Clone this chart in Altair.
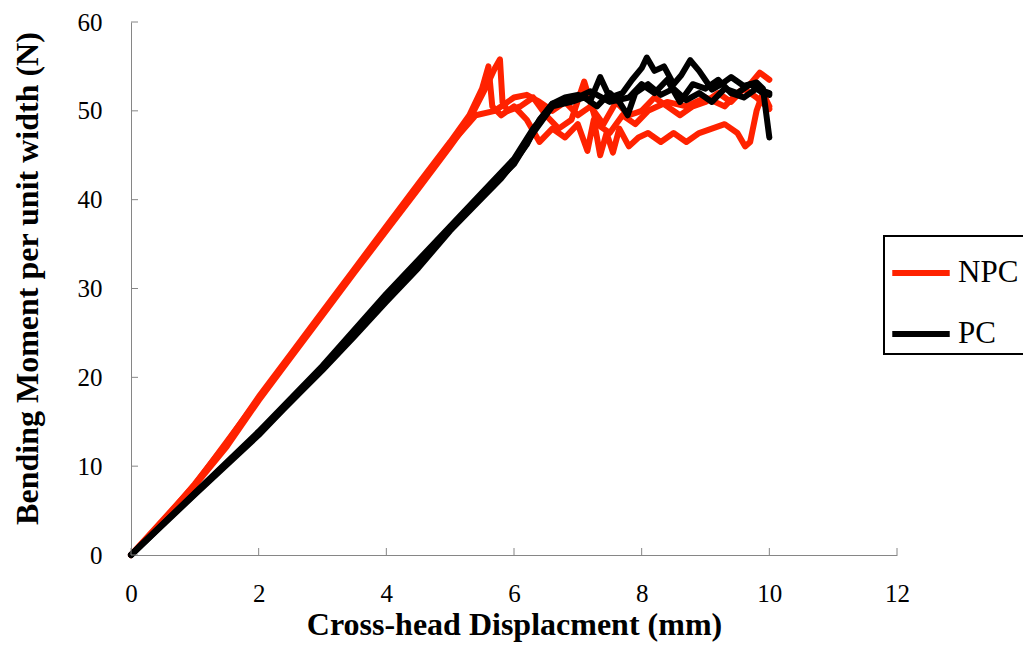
import altair as alt
import pandas as pd

# ---------------- data ----------------
npc1_x = [0, 0.5, 1, 1.5, 2, 2.5, 3, 3.5, 4, 4.5, 5, 5.3, 5.55, 5.7, 5.78, 5.82, 5.9, 6.1, 6.3, 6.5,
          6.7, 6.9, 7.1, 7.3, 7.5, 7.7, 7.9, 8.1, 8.4, 8.7, 9.0, 9.3, 9.5, 9.7, 9.85, 10.0]
npc1_y = [0, 3.6, 7.8, 12.2, 17.4, 22.2, 27, 31.8, 36.5, 41.2, 46, 49, 52.5, 54.8, 55.8, 51, 50, 50.5, 51.5, 49.5,
          48, 49, 53.3, 48.5, 47.5, 49.5, 48.5, 50, 51, 50.5, 51.5, 50.5, 52, 53, 54.3, 53.5]

npc2_x = [0, 0.5, 1, 1.5, 2, 2.5, 3, 3.5, 4, 4.5, 5, 5.3, 5.5, 5.6, 5.66, 5.8, 6.0, 6.2, 6.4, 6.6,
          6.8, 7.0, 7.15, 7.25, 7.35, 7.45, 7.55, 7.65, 7.8, 7.95, 8.1, 8.3, 8.5, 8.7, 8.9, 9.1, 9.3,
          9.5, 9.62, 9.7, 9.8, 9.9, 10.0]
npc2_y = [0, 3.8, 8.0, 12.6, 17.8, 22.6, 27.4, 32.2, 37, 41.8, 46.5, 49.5, 52.5, 55.0, 50.5, 49.5, 50.5, 49, 46.5, 48,
          47, 48.5, 45.5, 49, 45, 47.5, 45.3, 48, 46, 47, 47.5, 46.5, 47.5, 46.5, 47.5, 48, 48.5,
          47.5, 46, 46.5, 50, 52, 50.5]

npc3_x = [0, 1, 2, 3, 4, 5, 5.4, 5.7, 6.0, 6.2, 6.4, 6.6, 6.8, 7.0, 7.2, 7.4, 7.6, 7.8, 8.0, 8.2,
          8.4, 8.6, 8.8, 9.0, 9.2, 9.4, 9.6, 9.8, 10.0]
npc3_y = [0, 7.9, 17.6, 27.2, 36.8, 46.2, 49.5, 50, 51.5, 51.8, 51, 50, 51, 49.5, 50.5, 48.5, 51, 49.5, 50, 51.5,
          50.5, 49.5, 50.5, 51, 52, 51, 52.5, 51.5, 50.2]

pc1_x = [0, 0.5, 1, 1.5, 2, 2.5, 3, 3.5, 4, 4.5, 5, 5.5, 5.8, 6.0, 6.2, 6.4, 6.6, 6.8, 7.0, 7.2,
         7.35, 7.5, 7.7, 7.85, 8.0, 8.08, 8.2, 8.35, 8.5, 8.62, 8.76, 8.9, 9.1, 9.25, 9.4, 9.6, 9.8,
         9.9, 10.0]
pc1_y = [0, 3.5, 6.9, 10.3, 13.7, 17.2, 20.8, 24.6, 28.5, 32.3, 36.5, 40.2, 42.4, 44.2, 46.2, 49, 50.8, 51.5, 51.8, 51.2,
         53.8, 51.5, 52, 53.5, 54.8, 56, 54.5, 55, 53, 54, 55.7, 54.5, 52.4, 53, 53.8, 52.8, 53.2,
         52.5, 47]

pc2_x = [0, 1, 2, 3, 4, 4.5, 5, 5.5, 6.0, 6.3, 6.6, 6.9, 7.1, 7.3, 7.5, 7.65, 7.78, 7.9, 8.1, 8.3,
         8.5, 8.7, 8.9, 9.1, 9.3, 9.5, 9.7, 9.9, 10.0]
pc2_y = [0, 6.8, 13.5, 21, 29, 32.8, 36.8, 40.5, 44, 47.5, 50.5, 51, 51.5, 50.5, 52, 51, 49.5, 52, 53, 51.8,
         52.5, 51.2, 52, 51, 52.5, 52, 53, 52, 51.8]

pc3_x = [0, 1, 2, 3, 4, 5, 5.5, 6.0, 6.3, 6.6, 6.9, 7.2, 7.5, 7.8, 8.0, 8.2, 8.4, 8.6, 8.8, 9.0,
         9.2, 9.4, 9.6, 9.8, 10.0]
pc3_y = [0, 7.0, 13.9, 21.3, 29.4, 37, 40.8, 44.6, 48, 50.8, 51.2, 52.2, 51, 51.5, 53, 52, 53.5, 51, 53, 52.5,
         53.5, 52, 51.5, 52.5, 52]

series_names = ["NPC", "PC"]
series_colors = ["#ff2200", "#000000"]
x_ticks = [0, 2, 4, 6, 8, 10, 12]
y_ticks = [0, 10, 20, 30, 40, 50, 60]

curves = [
    ("NPC", "NPC-1", npc1_x, npc1_y),
    ("NPC", "NPC-2", npc2_x, npc2_y),
    ("NPC", "NPC-3", npc3_x, npc3_y),
    ("PC", "PC-1", pc1_x, pc1_y),
    ("PC", "PC-2", pc2_x, pc2_y),
    ("PC", "PC-3", pc3_x, pc3_y),
]
frames = []
for s, sp, xs, ys in curves:
    frames.append(pd.DataFrame({"series": s, "specimen": sp, "x": xs, "y": ys,
                                "idx": list(range(len(xs)))}))
df = pd.concat(frames, ignore_index=True)

W, H = 766, 533
FONT = "Liberation Serif"

xscale = alt.Scale(domain=[0, 12], nice=False, zero=False)
yscale = alt.Scale(domain=[0, 60], nice=False, zero=False)

xaxis = alt.Axis(values=x_ticks, grid=False, ticks=False, tickSize=0, labelPadding=26,
                 labelFlush=False, labelOverlap=False,
                 labelFont=FONT, labelFontSize=25, labelColor="black",
                 domainColor="#868686", domainWidth=1,
                 title="Cross-head Displacment (mm)", titleFont=FONT, titleFontSize=32,
                 titleFontWeight="bold", titleColor="black", titleBaseline="alphabetic", titleY=79)
yaxis = alt.Axis(values=y_ticks, grid=False, ticks=False, tickSize=0, labelPadding=29,
                 labelFlush=False, labelOverlap=False,
                 labelFont=FONT, labelFontSize=25, labelColor="black",
                 domainColor="#868686", domainWidth=1,
                 title="Bending Moment per unit width (N)", titleFont=FONT, titleFontSize=32,
                 titleFontWeight="bold", titleColor="black", titleBaseline="alphabetic",
                 titleX=-94, titleY=256)

color = alt.Color("series:N", scale=alt.Scale(domain=series_names, range=series_colors),
                  title=None,
                  legend=alt.Legend(orient="none", legendX=753, legendY=214, direction="vertical",
                                    padding=5, strokeColor="black", symbolType="stroke",
                                    symbolSize=3300, symbolStrokeWidth=6, labelFont=FONT,
                                    labelFontSize=31, labelColor="black", labelOffset=5,
                                    rowPadding=14))

base = alt.Chart(df)

def lines(name):
    return base.transform_filter(alt.datum.series == name).mark_line(
        strokeWidth=6, strokeJoin="round", strokeCap="round"
    ).encode(
        x=alt.X("x:Q", scale=xscale, axis=xaxis),
        y=alt.Y("y:Q", scale=yscale, axis=yaxis),
        color=color,
        detail="specimen:N",
        order="idx:Q",
    )

xt = alt.Chart(pd.DataFrame({"x": x_ticks})).mark_rule(color="#868686", strokeWidth=1).encode(
    x=alt.X("x:Q", scale=xscale, axis=xaxis), y=alt.value(H), y2=alt.value(H - 7))
yt = alt.Chart(pd.DataFrame({"y": y_ticks})).mark_rule(color="#868686", strokeWidth=1).encode(
    y=alt.Y("y:Q", scale=yscale, axis=yaxis), x=alt.value(0), x2=alt.value(7))

chart = alt.layer(lines("NPC"), lines("PC"), xt, yt).properties(
    width=W, height=H,
    autosize=alt.AutoSizeParams(type="none"),
    padding={"left": 123, "top": 14, "right": 126, "bottom": 94},
).configure_view(stroke=None).configure_legend(strokeWidth=2)

chart.save("out.html", embed_options={"renderer": "svg", "actions": False})
